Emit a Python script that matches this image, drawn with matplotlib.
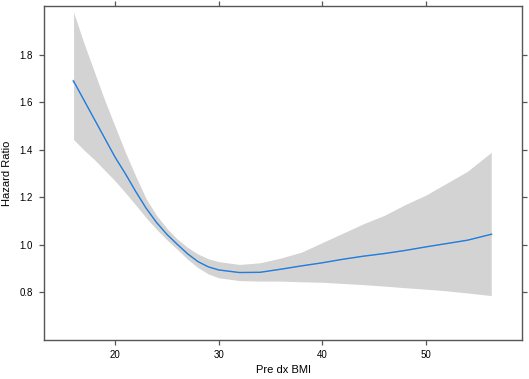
import matplotlib
matplotlib.use("Agg")
import matplotlib.pyplot as plt
import numpy as np

# values
bmi = [16, 17, 18, 19, 20, 21, 22, 23, 24, 25, 26, 27, 28, 29, 30, 32, 34,
       36, 38, 40, 42, 44, 46, 48, 50, 52, 54, 56.3]
hr = [1.69, 1.61, 1.53, 1.45, 1.37, 1.30, 1.225, 1.155, 1.095, 1.045, 1.003,
      0.963, 0.93, 0.908, 0.895, 0.884, 0.885, 0.898, 0.912, 0.925, 0.94,
      0.953, 0.964, 0.977, 0.992, 1.006, 1.02, 1.045]
hr_upper = [1.98, 1.85, 1.73, 1.61, 1.50, 1.39, 1.29, 1.195, 1.125, 1.07,
            1.025, 0.99, 0.962, 0.942, 0.93, 0.918, 0.925, 0.945, 0.97, 1.01,
            1.05, 1.09, 1.125, 1.17, 1.21, 1.26, 1.31, 1.39]
hr_lower = [1.444, 1.40, 1.36, 1.315, 1.27, 1.22, 1.168, 1.115, 1.066, 1.022,
            0.982, 0.94, 0.905, 0.878, 0.862, 0.850, 0.848, 0.848, 0.845,
            0.843, 0.838, 0.833, 0.827, 0.82, 0.814, 0.807, 0.798, 0.787]

x_ticks = [20, 30, 40, 50]
y_ticks = [0.8, 1.0, 1.2, 1.4, 1.6, 1.8]

plt.rcParams['font.family'] = ['Liberation Sans', 'DejaVu Sans']

fig = plt.figure(figsize=(5.29, 3.79), dpi=100)
ax = fig.add_axes([0.0832, 0.1029, 0.9036, 0.8813])

# confidence band and fitted curve
ax.fill_between(bmi, hr_lower, hr_upper, color='#d3d3d3', linewidth=0)
ax.plot(bmi, hr, color='#f0d8b8', linewidth=2.0)
ax.plot(bmi, hr, color='#1a80f0', linewidth=1.1)

ax.set_xlim(13.15, 59.27)
ax.set_ylim(0.6, 2.006)
ax.set_xticks(x_ticks)
ax.set_yticks(y_ticks)
ax.set_yticklabels([f"{v:.1f}" for v in y_ticks])

for s in ax.spines.values():
    s.set_color('#555555')
    s.set_linewidth(1.0)

ax.tick_params(direction='out', length=3.3, width=0.9, color='#555555',
               labelsize=7, top=True, right=True)
ax.tick_params(axis='x', pad=4)
ax.tick_params(axis='y', pad=4.5)

ax.set_xlabel('Pre dx BMI', fontsize=8)
ax.set_ylabel('Hazard Ratio', fontsize=8)
ax.xaxis.set_label_coords(0.5, -0.074)
ax.yaxis.set_label_coords(-0.066, 0.5)

fig.savefig('out.png', dpi=100)
